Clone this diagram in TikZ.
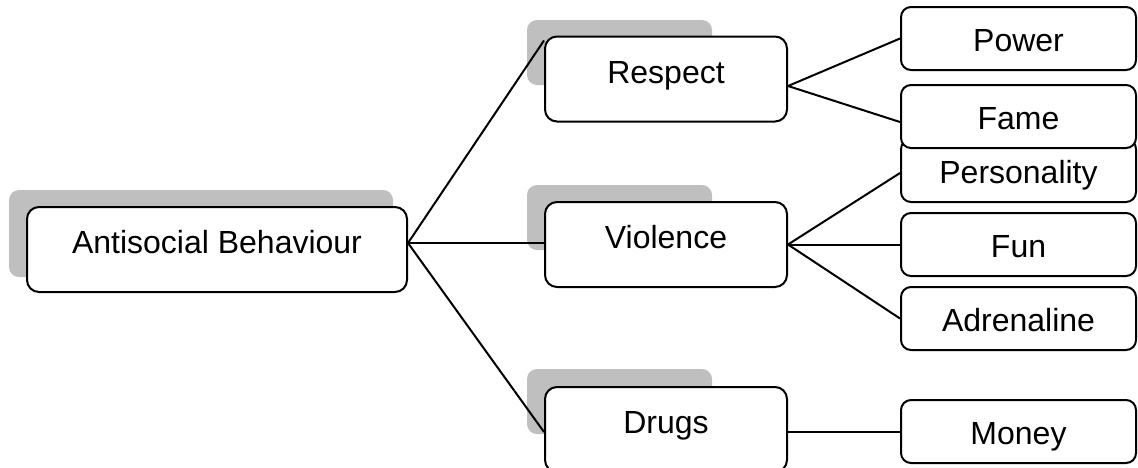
\documentclass[tikz,border=0pt]{standalone}
\usepackage{fontspec}
\setmainfont{Liberation Sans}
\usetikzlibrary{calc}

\begin{document}
\begin{tikzpicture}[x=0.5pt, y=-0.5pt, line width=1pt,
	font=\fontsize{16}{19}\selectfont,
	main/.style = {draw, fill=white, rounded corners=6pt, inner sep=0pt,
		minimum width=121pt, minimum height=42.5pt, text height=12pt, text depth=8pt},
	leaf/.style = {draw, fill=white, rounded corners=5pt, inner sep=0pt,
		minimum width=117.5pt, minimum height=31.5pt, text height=13pt, text depth=0pt},
	back/.style = {fill=black!25, rounded corners=5pt}]
\useasboundingbox (0,0) rectangle (1138,467);
% grey backs
\fill[back] (9,190) rectangle (393,277);
\fill[back] (527,20) rectangle (712,85);
\fill[back] (527,185) rectangle (712,250);
\fill[back] (527,369) rectangle (712,434);
% first level
\node[main, minimum width=190pt] (anti) at (217,249.5) {Antisocial Behaviour};
\node[main] (respect) at (666,79) {Respect};
\node[main] (violence) at (666,244.5) {Violence};
\node[main] (drugs) at (666,429.5) {Drugs};
% second level
\node[leaf] (power) at (1018.5,38.5) {Power};
\node[leaf] (personality) at (1018.5,170.5) {Personality};
\node[leaf] (fame) at (1018.5,116.5) {Fame};
\node[leaf] (fun) at (1018.5,244.5) {Fun};
\node[leaf] (adrenaline) at (1018.5,318.5) {Adrenaline};
\node[leaf] (money) at (1018.5,431.5) {Money};
% links
\draw ($(anti.east)+(0,-6.5)$) -- ($(respect.north west)+(0,5)$);
\draw ($(anti.east)+(0,-6.5)$) -- ($(violence.west)+(0,-1.5)$);
\draw ($(anti.east)+(0,-6.5)$) -- ($(drugs.west)+(0,2.5)$);
\draw ($(respect.east)+(0,7)$) -- (power.west);
\draw ($(respect.east)+(0,7)$) -- ($(fame.west)+(0,5.5)$);
\draw (violence.east) -- ($(personality.west)+(0,2.5)$);
\draw (violence.east) -- (fun.west);
\draw (violence.east) -- (adrenaline.west);
\draw ($(drugs.east)+(0,2)$) -- (money.west);
\end{tikzpicture}
\end{document}
